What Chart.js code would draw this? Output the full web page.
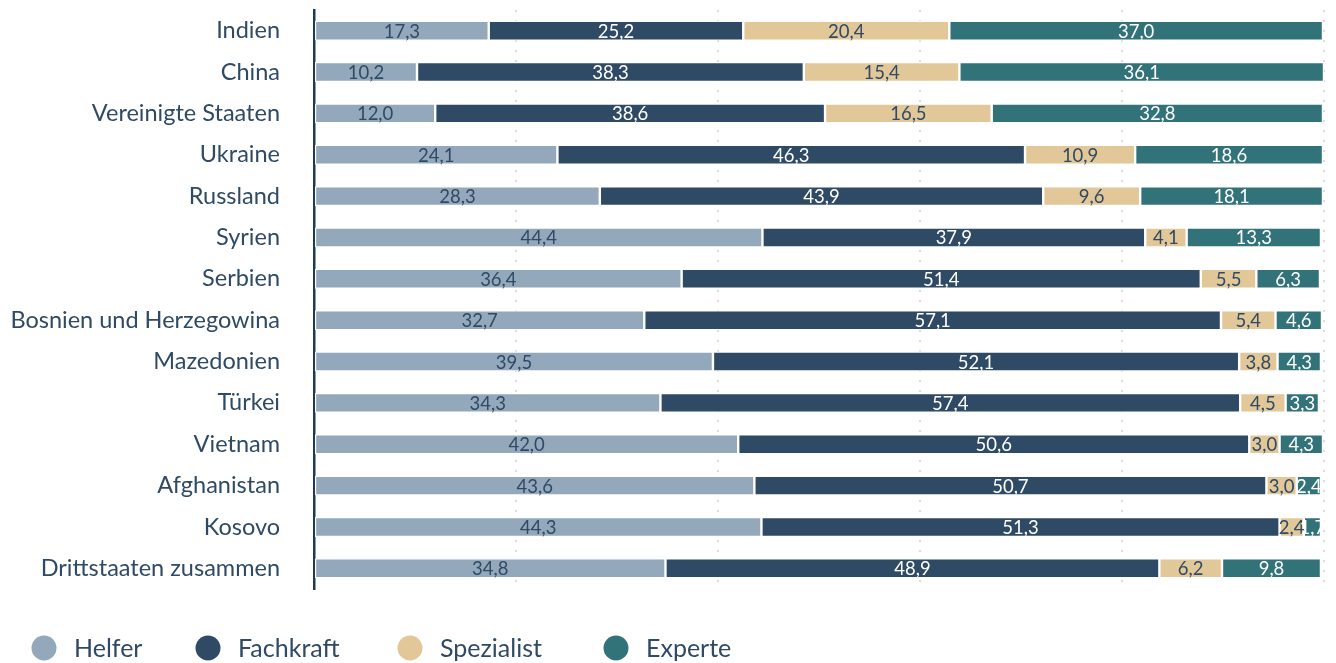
<!DOCTYPE html>
<html>
<head>
<meta charset="utf-8">
<script src="https://cdn.jsdelivr.net/npm/chart.js@4/dist/chart.umd.min.js"></script>
<style>
  html, body { margin: 0; padding: 0; background: #ffffff; }
  #wrap { width: 1336px; height: 663px; position: relative; }
</style>
</head>
<body>
<div id="wrap"><canvas id="c" width="1336" height="663"></canvas></div>
<script>
const categories = [
  "Indien", "China", "Vereinigte Staaten", "Ukraine", "Russland", "Syrien", "Serbien",
  "Bosnien und Herzegowina", "Mazedonien", "Türkei", "Vietnam", "Afghanistan", "Kosovo",
  "Drittstaaten zusammen"
];
const helfer     = [17.3, 10.2, 12.0, 24.1, 28.3, 44.4, 36.4, 32.7, 39.5, 34.3, 42.0, 43.6, 44.3, 34.8];
const fachkraft  = [25.2, 38.3, 38.6, 46.3, 43.9, 37.9, 51.4, 57.1, 52.1, 57.4, 50.6, 50.7, 51.3, 48.9];
const spezialist = [20.4, 15.4, 16.5, 10.9,  9.6,  4.1,  5.5,  5.4,  3.8,  4.5,  3.0,  3.0,  2.4,  6.2];
const experte    = [37.0, 36.1, 32.8, 18.6, 18.1, 13.3,  6.3,  4.6,  4.3,  3.3,  4.3,  2.4,  1.7,  9.8];
const seriesNames = ["Helfer", "Fachkraft", "Spezialist", "Experte"];
const xTicks = [0, 20, 40, 60, 80, 100];

const FONT = "Lato";
const TEXT = "#2e4a64";
const colors = ["#94a8bb", "#2f4a64", "#e2c798", "#32737a"];
const labelColors = ["#2e4a64", "#ffffff", "#2e4a64", "#ffffff"];

const seriesData = [helfer, fachkraft, spezialist, experte];
const datasets = seriesNames.map((n, i) => ({
  label: n,
  data: seriesData[i],
  backgroundColor: colors[i],
  borderColor: "#ffffff",
  borderWidth: 1.2,
  borderSkipped: false,
  labelColor: labelColors[i],
  categoryPercentage: 1.0,
  barPercentage: 0.48
}));

const dataLabelPlugin = {
  id: "dataLabels",
  afterDatasetsDraw(chart) {
    const ctx = chart.ctx;
    ctx.save();
    ctx.font = "18.5px " + FONT;
    ctx.textAlign = "center";
    ctx.textBaseline = "middle";
    chart.data.datasets.forEach((ds, di) => {
      const meta = chart.getDatasetMeta(di);
      meta.data.forEach((el, i) => {
        const v = ds.data[i];
        const cx = (el.x + el.base) / 2;
        ctx.fillStyle = ds.labelColor;
        ctx.fillText(v.toFixed(1).replace(".", ","), cx, el.y + 1);
      });
    });
    ctx.restore();
  }
};

const legendCenters = [44, 208, 410, 616];
const legendPlugin = {
  id: "customLegend",
  afterDraw(chart) {
    const ctx = chart.ctx;
    ctx.save();
    ctx.font = "25px " + FONT;
    ctx.textBaseline = "middle";
    ctx.textAlign = "left";
    const y = 648;
    chart.data.datasets.forEach((ds, i) => {
      const cx = legendCenters[i];
      ctx.fillStyle = ds.backgroundColor;
      ctx.beginPath();
      ctx.arc(cx, y, 12.5, 0, Math.PI * 2);
      ctx.fill();
      ctx.fillStyle = TEXT;
      ctx.fillText(ds.label, cx + 30, y + 1);
    });
    ctx.restore();
  }
};

new Chart(document.getElementById("c"), {
  type: "bar",
  data: { labels: categories, datasets },
  options: {
    indexAxis: "y",
    responsive: false,
    animation: false,
    devicePixelRatio: 1,
    layout: { padding: { left: 0, right: 12, top: 10, bottom: 74 } },
    plugins: { legend: { display: false }, tooltip: { enabled: false } },
    scales: {
      x: {
        stacked: true,
        min: 0,
        max: 100,
        afterBuildTicks(scale) { scale.ticks = xTicks.map(v => ({ value: v })); },
        ticks: { display: false },
        border: { display: false, dash: [2, 8] },
        grid: {
          drawTicks: false,
          color: (c) => (c.tick && c.tick.value === 0 ? "rgba(0,0,0,0)" : "#dcdcdc"),
          lineWidth: 2
        }
      },
      y: {
        stacked: true,
        afterFit(scale) { scale.width = 314; scale.paddingTop = 0; scale.paddingBottom = 0; },
        ticks: {
          color: TEXT,
          font: { family: FONT, size: 23.5 },
          padding: 34,
          autoSkip: false
        },
        grid: { display: false, drawTicks: false },
        border: { display: true, color: "#1f3a55", width: 2.5 }
      }
    }
  },
  plugins: [dataLabelPlugin, legendPlugin]
});
</script>
</body>
</html>
